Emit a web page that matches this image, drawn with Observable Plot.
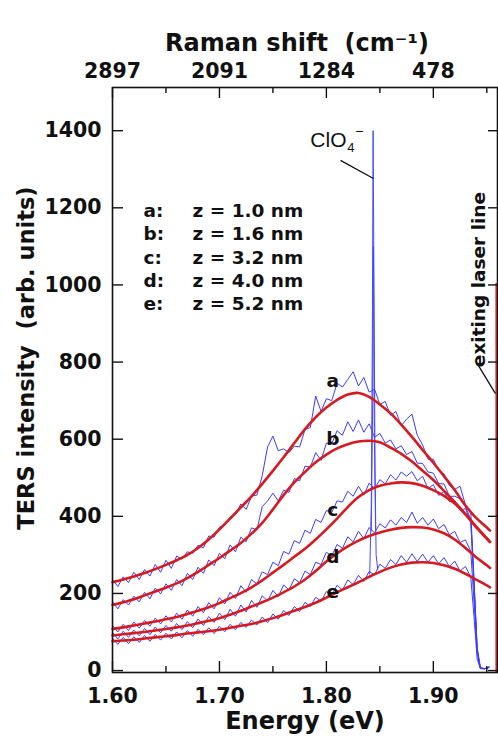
<!DOCTYPE html>
<html><head><meta charset="utf-8">
<script src="https://cdn.jsdelivr.net/npm/d3@7"></script>
<script src="https://cdn.jsdelivr.net/npm/@observablehq/plot@0.6"></script>
<style>html,body{margin:0;padding:0;background:#fff;}#chart svg{display:block;}</style>
</head><body><div id="chart"></div>
<script>
// ---------- data ----------
const curveKeys = ["a", "b", "c", "d", "e"];
const distances = ["1.0", "1.6", "3.2", "4.0", "5.2"];

// measured spectra (blue)
const blueE = [1.600,1.605,1.610,1.615,1.620,1.625,1.630,1.635,1.640,1.645,
  1.650,1.655,1.660,1.665,1.670,1.675,1.680,1.685,1.690,1.695,
  1.700,1.705,1.710,1.715,1.720,1.725,1.730,1.735,1.740,1.745,
  1.750,1.755,1.760,1.765,1.770,1.775,1.780,1.785,1.790,1.795,
  1.800,1.805,1.810,1.815,1.820,1.825,1.830,1.835,1.840,1.845,
  1.850,1.855,1.860,1.865,1.870,1.875,1.880,1.885,1.890,1.895,
  1.900,1.905,1.910,1.915,1.920,1.925,1.930,1.935,
  1.938,1.941,1.944,1.948,1.952];
const blueA = [236,218,243,228,255,236,262,245,275,255,
  286,265,297,289,308,304,325,318,349,346,
  372,378,398,405,432,418,452,455,505,580,
  608,570,575,565,582,580,625,630,712,672,
  705,700,745,735,755,775,738,760,722,730,
  690,698,662,672,635,652,665,610,585,548,
  548,518,510,480,470,478,430,412,
  240,60,8,5,9];
const blueB = [178,160,184,170,193,178,203,186,214,199,
  225,208,236,220,252,236,268,252,287,272,
  304,290,326,308,346,334,370,365,425,440,
  460,440,468,462,498,492,530,528,565,545,
  590,588,622,610,645,620,650,618,640,605,
  615,590,598,575,583,560,568,538,537,515,
  512,485,484,452,452,446,425,392,
  230,55,7,5,8];
const blueC = [117,100,120,104,126,110,130,115,136,121,
  142,126,149,133,157,141,166,150,176,160,
  189,173,203,187,220,203,236,225,256,249,
  281,272,309,302,337,330,364,356,392,384,
  415,410,440,437,465,452,478,455,486,472,
  495,484,508,494,515,504,516,492,504,472,
  482,454,465,438,440,416,420,388,
  220,50,6,5,8];
const blueD = [99,82,102,86,105,90,109,93,113,98,
  117,102,122,106,127,111,134,117,140,125,
  149,132,159,141,170,152,182,164,194,180,
  208,192,222,209,238,228,258,249,281,275,
  307,297,327,317,347,334,361,342,371,357,
  381,370,391,377,397,384,411,382,397,377,
  393,368,379,352,361,332,339,310,
  180,45,6,5,8];
const blueEe = [84,68,86,70,88,73,91,76,94,79,
  97,82,100,85,104,89,107,93,111,96,
  115,101,120,106,125,112,131,118,139,124,
  147,133,156,143,166,153,177,166,190,180,
  205,196,221,209,235,223,247,231,257,248,
  276,265,288,275,298,281,303,283,302,281,
  298,277,293,269,284,258,270,243,
  140,30,5,4,10];

// ClO4- Raman band (spikes)
const spikeE_e = [1.8405,1.842,1.843,1.8437,1.8445,1.8455,1.8465,1.848];
const spikeI_e = [250,430,900,1400,1000,520,300,262];
const spikeE_d = [1.842,1.8433,1.844,1.8447,1.846];
const spikeI_d = [362,700,1100,650,365];

// fitted curves (red)
const fitE = [1.60,1.61,1.62,1.63,1.64,1.65,1.66,1.67,1.68,1.69,
  1.70,1.71,1.72,1.73,1.74,1.75,1.76,1.77,1.78,1.79,
  1.80,1.81,1.82,1.83,1.84,1.85,1.86,1.87,1.88,1.89,
  1.90,1.91,1.92,1.93,1.94,1.95,1.953];
const fitA = [229,236,244,253,263,274,286,300,318,340,
  366,394,423,452,484,518,553,590,626,657,
  682,702,716,720,710,690,667,638,606,572,
  539,504,468,428,396,371,363];
const fitB = [170,177,185,195,205,215,226,240,256,274,
  292,311,331,355,383,418,455,488,515,540,
  560,576,587,594,596,592,578,562,542,518,
  494,466,437,406,373,343,334];
const fitC = [108,112,117,122,127,133,139,147,155,164,
  175,188,201,216,234,254,274,295,316,340,
  366,394,424,450,468,479,485,488,486,479,
  468,453,433,405,372,342,333];
const fitD = [91,94,97,100,104,108,112,117,123,129,
  136,145,155,166,177,189,203,218,236,258,
  283,304,322,337,349,358,365,370,372,371,
  366,356,340,318,294,273,266];
const fitEe = [76,78,80,83,86,89,92,96,99,102,
  106,111,116,121,128,136,145,155,165,176,
  189,203,216,229,243,256,267,275,280,281,
  279,273,264,251,236,221,216];

// axes
const xDomain = [1.60, 1.96];
const yDomain = [-5, 1512];
const xMajor = [1.60, 1.70, 1.80, 1.90];
const xMinor = [1.65, 1.75, 1.85, 1.95];
const ramanLabels = ["2897", "2091", "1284", "478"];
const yMajor = [0, 200, 400, 600, 800, 1000, 1200, 1400];

// annotations
const laserE = [1.959];
const laserTop = 1004;
const labelE = [1.806, 1.806, 1.806, 1.806, 1.806];
const labelI = [750, 600, 415, 294, 203];
const clo4Pos = {E: 1.785, I: 1374};
const clo4Leader = {x1: 1.8132, y1: 1323, x2: 1.844, y2: 1276};
const laserLabelPos = {E: 1.9432, I: 1014};
const laserLeader = {x1: 1.9422, y1: 791, x2: 1.9581, y2: 718};

// ---------- layout ----------
const W = 498, H = 739;
const mTop = 87, mRight = 1, mBottom = 67, mLeft = 112;
const frameW = W - mLeft - mRight;
const frameH = H - mTop - mBottom;

const blueSeries = {a: blueA, b: blueB, c: blueC, d: blueD, e: blueEe};
const fitSeries = {a: fitA, b: fitB, c: fitC, d: fitD, e: fitEe};
const blueRows = curveKeys.flatMap(k => blueE.map((E, i) => ({E, I: blueSeries[k][i], k})));
const spikeRows = [
  ...spikeE_e.map((E, i) => ({E, I: spikeI_e[i], k: "e"})),
  ...spikeE_d.map((E, i) => ({E, I: spikeI_d[i], k: "d"}))
];
const fitRows = curveKeys.flatMap(k => fitE.map((E, i) => ({E, I: fitSeries[k][i], k})));
const labelRows = curveKeys.map((k, i) => ({k, E: labelE[i], I: labelI[i]}));
const ramanByE = new Map(xMajor.map((e, i) => [e.toFixed(2), ramanLabels[i]]));

const ink = "#111";
const chart = Plot.plot({
  width: W, height: H,
  marginTop: mTop, marginRight: mRight, marginBottom: mBottom, marginLeft: mLeft,
  x: {domain: xDomain},
  y: {domain: yDomain},
  style: {fontFamily: "'DejaVu Sans', Verdana, sans-serif", fontWeight: "bold", fontSize: "20.5px", color: ink, background: "#fff", overflow: "visible"},
  marks: [
    Plot.line(blueRows, {x: "E", y: "I", z: "k", stroke: "#3c3cff", strokeWidth: 1}),
    Plot.line(spikeRows, {x: "E", y: "I", z: "k", stroke: "#4848ff", strokeWidth: 1}),
    Plot.line(fitRows, {x: "E", y: "I", z: "k", stroke: "#d71920", strokeWidth: 2.6, curve: "catmull-rom"}),
    Plot.ruleX(laserE, {x: d => d, y1: yDomain[0], y2: laserTop, stroke: "#e03a3e", strokeWidth: 2.2}),
    // frame and inward ticks
    Plot.frame({stroke: ink, strokeWidth: 1.6}),
    Plot.ruleX(xMajor, {x: d => d, insetTop: frameH - 11, stroke: ink, strokeWidth: 1.4}),
    Plot.ruleX(xMinor, {x: d => d, insetTop: frameH - 6, stroke: ink, strokeWidth: 1.4}),
    Plot.ruleX(xMajor, {x: d => d, insetBottom: frameH - 11, stroke: ink, strokeWidth: 1.4}),
    Plot.ruleX(xMinor, {x: d => d, insetBottom: frameH - 6, stroke: ink, strokeWidth: 1.4}),
    Plot.ruleY(yMajor, {y: d => d, insetRight: frameW - 11, stroke: ink, strokeWidth: 1.4}),
    Plot.ruleY(yMajor, {y: d => d, insetLeft: frameW - 9, stroke: ink, strokeWidth: 1.4}),
    // axis labels
    Plot.axisX({anchor: "bottom", ticks: xMajor, tickSize: 0, tickPadding: 16, tickFormat: d3.format(".2f"), label: null}),
    Plot.axisX({anchor: "top", ticks: xMajor, tickSize: 0, tickPadding: 10, tickFormat: d => ramanByE.get(d.toFixed(2)), label: null}),
    Plot.axisY({anchor: "left", ticks: yMajor, tickSize: 0, tickPadding: 11, tickFormat: d => String(d), label: null}),
    // titles
    Plot.text(["Raman shift  (cm\u207B\u00B9)"], {text: d => d, frameAnchor: "top", dx: -8, dy: -54, fontSize: 24}),
    Plot.text(["Energy (eV)"], {text: d => d, frameAnchor: "bottom", dy: 56, fontSize: 24}),
    Plot.text(["TERS intensity  (arb. units)"], {text: d => d, frameAnchor: "left", textAnchor: "middle", dx: -86, dy: -22, rotate: -90, fontSize: 22.5}),
    // legend
    Plot.text([curveKeys.map(k => k + ":").join("\n")], {text: d => d, frameAnchor: "top-left", dx: 31, dy: 113, lineAnchor: "top", textAnchor: "start", lineHeight: 1.261, fontSize: 18.5}),
    Plot.text([distances.map(z => `z = ${z} nm`).join("\n")], {text: d => d, frameAnchor: "top-left", dx: 80, dy: 113, lineAnchor: "top", textAnchor: "start", lineHeight: 1.261, fontSize: 18.5}),
    // curve labels
    Plot.text(labelRows, {x: "E", y: "I", text: "k", fontSize: 18.5}),
    // ClO4- annotation
    Plot.text([clo4Pos], {x: "E", y: "I", text: () => "ClO", textAnchor: "start", fontFamily: "'Liberation Sans', Arial, sans-serif", fontWeight: "normal", fontSize: 21}),
    Plot.text([clo4Pos], {x: "E", y: "I", text: () => "4", textAnchor: "start", dx: 37, dy: 7, fontFamily: "'Liberation Sans', Arial, sans-serif", fontWeight: "normal", fontSize: 13}),
    Plot.text([clo4Pos], {x: "E", y: "I", text: () => "\u2212", textAnchor: "start", dx: 45, dy: -9, fontFamily: "'Liberation Sans', Arial, sans-serif", fontWeight: "normal", fontSize: 14}),
    Plot.link([clo4Leader], {x1: "x1", y1: "y1", x2: "x2", y2: "y2", stroke: ink, strokeWidth: 1.3}),
    // laser annotation
    Plot.text([laserLabelPos], {x: "E", y: "I", text: () => "exiting laser line", rotate: -90, fontSize: 18.5}),
    Plot.link([laserLeader], {x1: "x1", y1: "y1", x2: "x2", y2: "y2", stroke: ink, strokeWidth: 1.3})
  ]
});
document.getElementById("chart").append(chart);
</script></body></html>
